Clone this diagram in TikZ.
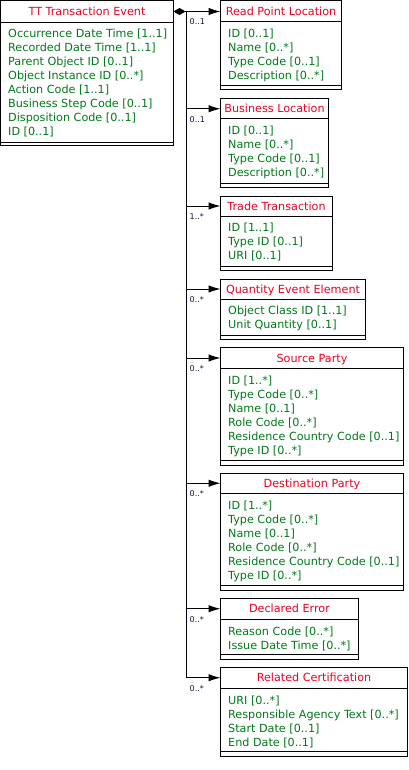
\documentclass[tikz,border=0pt]{standalone}
\usepackage{fontspec}
\setmainfont{DejaVu Sans}
\usetikzlibrary{arrows.meta,calc}
\definecolor{ttl}{RGB}{235,0,35}
\definecolor{att}{RGB}{0,120,25}
\definecolor{mult}{RGB}{20,20,70}
\tikzset{
  boxshape/.style={draw, line width=1pt, anchor=north west, inner sep=0pt, outer sep=0pt},
  rule/.style={line width=1pt},
  ttlst/.style={text=ttl, font=\fontsize{11.2}{14}\selectfont, inner sep=0pt, text height=8pt, text depth=0pt},
  attst/.style={text=att, font=\fontsize{11.2}{14}\selectfont, inner sep=0pt, anchor=base west},
  multst/.style={text=mult, font=\fontsize{8}{10}\selectfont, inner sep=0pt, anchor=base west},
  conn/.style={line width=1pt, -{Latex[length=12pt,width=7.5pt]}},
}
% name, left, top, right, divider, inner bottom, bottom, title, attributes
\newcommand\umlbox[9]{%
  \node[boxshape, minimum width={#4-#2}, minimum height={#7-#3}] (#1) at (#2,#3) {};
  \draw[rule] (#2,#5) -- (#4,#5);
  \draw[rule] (#2,#6) -- (#4,#6);
  \node[ttlst] (#1-t) at ({(#2+#4)/2},{(#3+#5)/2}) {#8};
  \foreach \a [count=\i] in {#9} {
    \node[attst] (#1-\i) at ({#2+7.5},{#5+15.5+14*\i-14}) {\a};
  }
}
\begin{document}
\begin{tikzpicture}[x=1pt,y=-1pt]
\useasboundingbox (0,0) rectangle (409,770);
\umlbox{main}{0.5}{0.5}{173.5}{22.5}{142.5}{146}{TT Transaction Event}{Occurrence Date Time [1..1],Recorded Date Time [1..1],Parent Object ID [0..1],Object Instance ID [0..*],Action Code [1..1],Business Step Code [0..1],Disposition Code [0..1],ID [0..1]}
\umlbox{rp}{220.5}{1}{341.5}{22}{86}{90}{Read Point Location}{ID [0..1],Name [0..*],Type Code [0..1],Description [0..*]}
\umlbox{bl}{220.5}{98.5}{328.5}{119}{183.5}{187.5}{Business Location}{ID [0..1],Name [0..*],Type Code [0..1],Description [0..*]}
\umlbox{tt}{220.5}{196}{332.5}{216}{266}{270}{Trade Transaction}{ID [1..1],Type ID [0..1],URI [0..1]}
\umlbox{qe}{220.5}{279}{365.5}{299}{335.5}{339}{Quantity Event Element}{Object Class ID [1..1],Unit Quantity [0..1]}
\umlbox{sp}{220.5}{347.5}{403.5}{368.5}{460}{465.5}{Source Party}{ID [1..*],Type Code [0..*],Name [0..1],Role Code [0..*],Residence Country Code [0..1],Type ID [0..*]}
\umlbox{dp}{220.5}{473}{403.5}{493.5}{585.5}{590}{Destination Party}{ID [1..*],Type Code [0..*],Name [0..1],Role Code [0..*],Residence Country Code [0..1],Type ID [0..*]}
\umlbox{de}{220.5}{598}{358.5}{619.5}{654.5}{659}{Declared Error}{Reason Code [0..*],Issue Date Time [0..*]}
\umlbox{rc}{220.5}{667}{407.5}{688.5}{751}{756}{Related Certification}{URI [0..*],Responsible Agency Text [0..*],Start Date [0..1],End Date [0..1]}
% composition diamond and trunk
\draw[conn, {Diamond[length=12pt,width=7pt]}-{Latex[length=12pt,width=7.5pt]}] (main.east |- rp-t) -- (rp.west |- rp-t);
\coordinate (trk) at (186.5,0);
\draw[rule] (trk |- rp-t) -- (trk |- rc-t);
\foreach \b in {bl,tt,qe,sp,dp,de,rc} {
  \draw[conn] (trk |- \b-t) -- (\b.west |- \b-t);
}
\node[multst] (m1) at ($(trk |- rp-t)+(3,13.5)$) {0..1};
\node[multst] (m2) at ($(trk |- bl-t)+(3,13.5)$) {0..1};
\node[multst] (m3) at ($(trk |- tt-t)+(3,13.5)$) {1..*};
\node[multst] (m4) at ($(trk |- qe-t)+(3,13.5)$) {0..*};
\node[multst] (m5) at ($(trk |- sp-t)+(3,13.5)$) {0..*};
\node[multst] (m6) at ($(trk |- dp-t)+(3,13.5)$) {0..*};
\node[multst] (m7) at ($(trk |- de-t)+(3,13.5)$) {0..*};
\node[multst] (m8) at ($(trk |- rc-t)+(3,13.5)$) {0..*};
\end{tikzpicture}
\end{document}
